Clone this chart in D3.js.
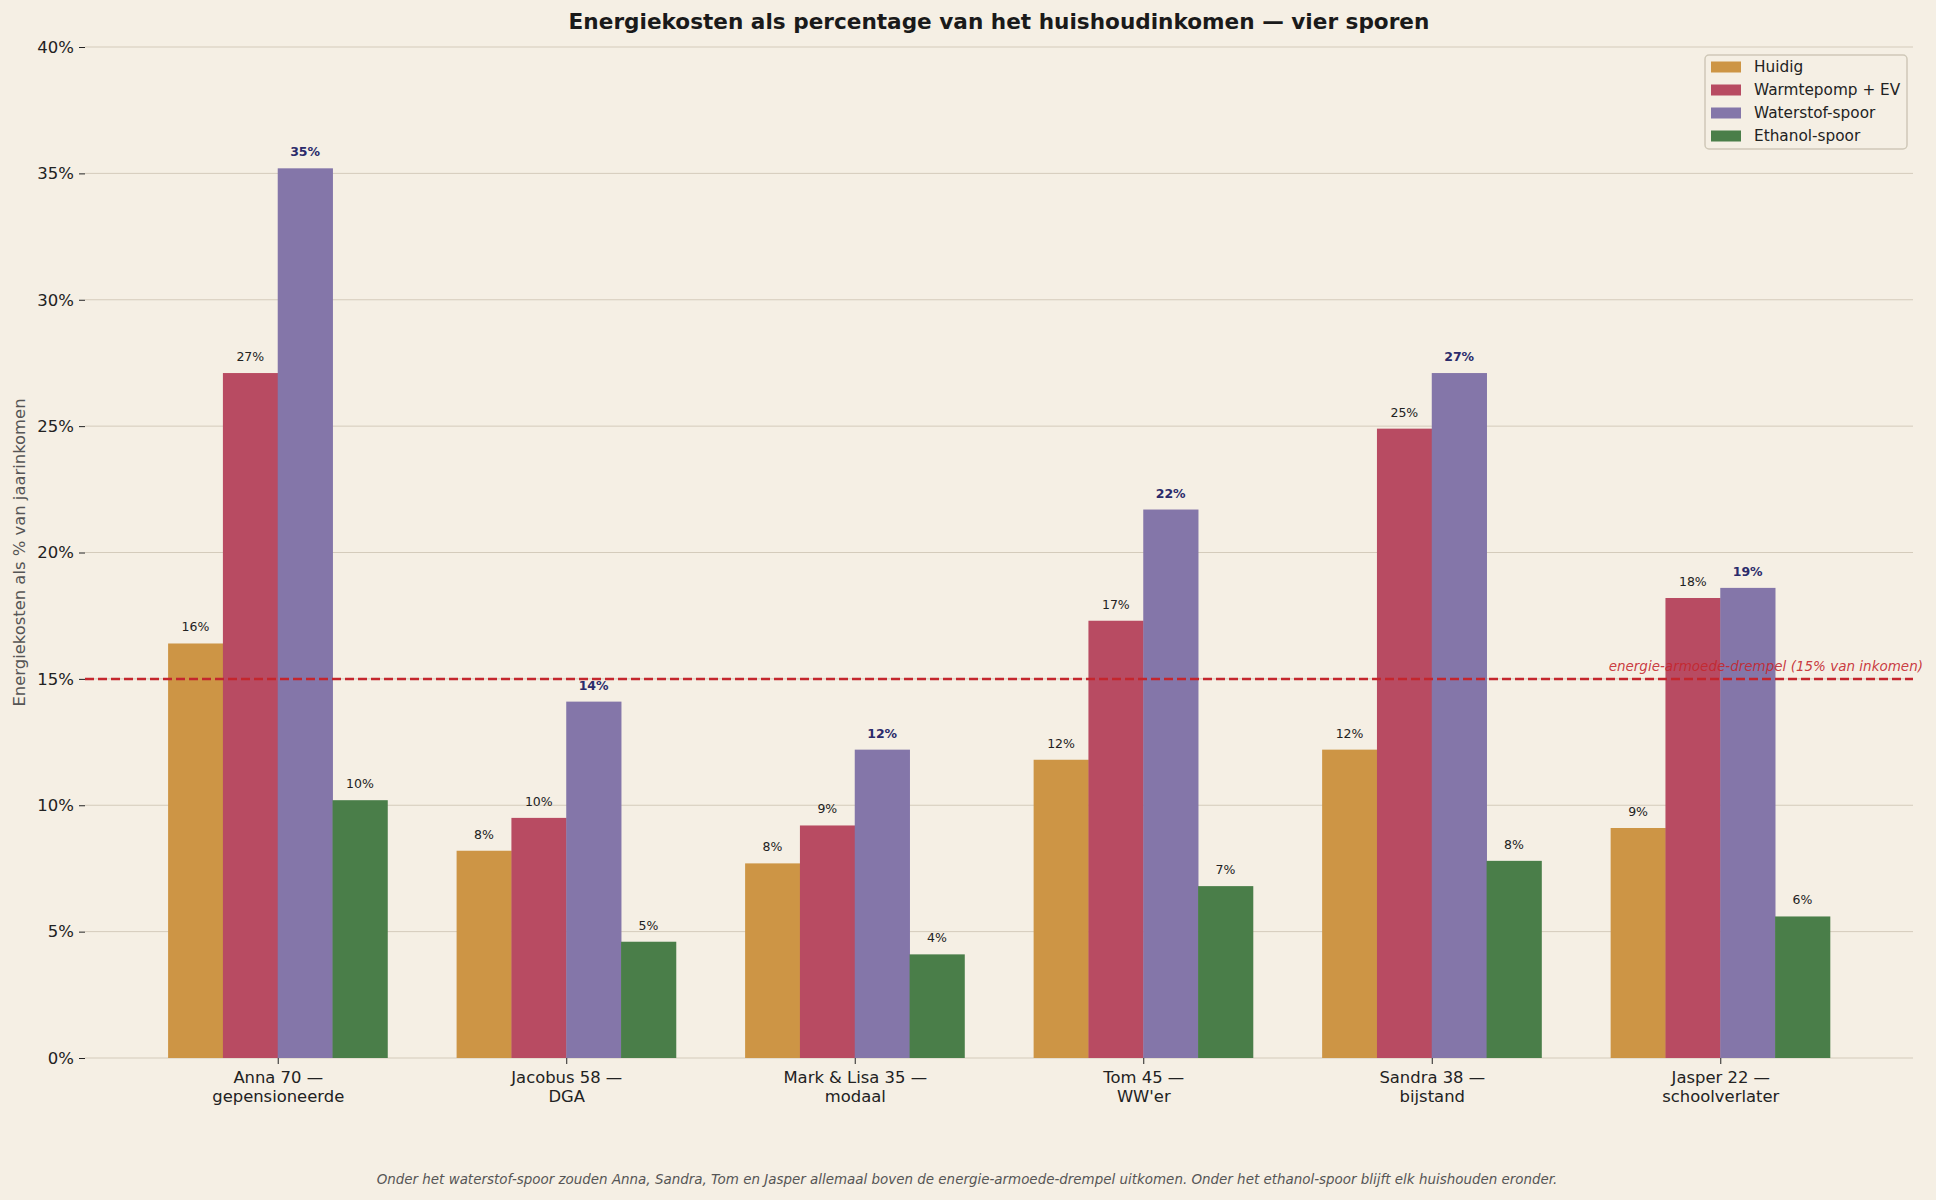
<!DOCTYPE html>
<html lang="nl">
    <head>
        <meta charset="UTF-8" />
        <title>Energiekosten vier sporen</title>
        <script src="https://cdn.jsdelivr.net/npm/d3@7"></script>
    </head>
    <body style="padding: 0; margin: 0; background-color: #f5efe4;">
        <script>
            // data
            const households = [
                ['Anna 70 —', 'gepensioneerde'],
                ['Jacobus 58 —', 'DGA'],
                ['Mark & Lisa 35 —', 'modaal'],
                ["Tom 45 —", "WW'er"],
                ['Sandra 38 —', 'bijstand'],
                ['Jasper 22 —', 'schoolverlater']
            ];
            const seriesNames = ['Huidig', 'Warmtepomp + EV', 'Waterstof-spoor', 'Ethanol-spoor'];
            const huidig = [16.4, 8.2, 7.7, 11.8, 12.2, 9.1];
            const warmtepomp = [27.1, 9.5, 9.2, 17.3, 24.9, 18.2];
            const waterstof = [35.2, 14.1, 12.2, 21.7, 27.1, 18.6];
            const ethanol = [10.2, 4.6, 4.1, 6.8, 7.8, 5.6];
            const yTicks = [0, 5, 10, 15, 20, 25, 30, 35, 40];
            const threshold = 15;

            const series = [huidig, warmtepomp, waterstof, ethanol];
            const colors = ['#cd9545', '#b84b62', '#8476a9', '#4a7e49'];
            const font = '"DejaVu Sans", sans-serif';

            const width = 1936;
            const height = 1200;
            const m = { left: 85, right: 1913, top: 47, bottom: 1058 };
            const barW = 0.19;

            const svg = d3
                .select('body')
                .append('svg')
                .attr('width', width)
                .attr('height', height)
                .style('font-family', font)
                .style('display', 'block');

            svg.append('rect').attr('width', width).attr('height', height).attr('fill', '#f5efe4');

            const x = d3.scaleLinear().domain([-0.668, 5.668]).range([m.left, m.right]);
            const y = d3.scaleLinear().domain([0, 40]).range([m.bottom, m.top]);

            // grid
            svg.append('g')
                .selectAll('line')
                .data(yTicks)
                .join('line')
                .attr('x1', m.left)
                .attr('x2', m.right)
                .attr('y1', d => y(d))
                .attr('y2', d => y(d))
                .attr('stroke', '#d4cbbb')
                .attr('stroke-width', 1);

            // y axis
            const yAxis = svg.append('g')
                .attr('transform', `translate(${m.left},0)`)
                .call(d3.axisLeft(y).tickValues(yTicks).tickFormat(d => d + '%').tickSize(6).tickPadding(5));
            yAxis.attr('font-family', font);
            yAxis.select('.domain').remove();
            yAxis.selectAll('text').attr('font-size', 16.5).attr('fill', '#222');
            yAxis.selectAll('line').attr('stroke', '#222');

            // x axis
            const xAxis = svg.append('g')
                .attr('transform', `translate(0,${m.bottom})`)
                .call(d3.axisBottom(x).tickValues(d3.range(households.length)).tickFormat('').tickSize(6));
            xAxis.attr('font-family', font);
            xAxis.select('.domain').remove();
            xAxis.selectAll('line').attr('stroke', '#222');
            xAxis.selectAll('.tick')
                .append('text')
                .attr('text-anchor', 'middle')
                .attr('fill', '#222')
                .attr('font-size', 16.4)
                .selectAll('tspan')
                .data(i => households[i])
                .join('tspan')
                .attr('x', 0)
                .attr('y', (d, j) => 25 + j * 19)
                .text(d => d);

            // bars
            series.forEach((vals, s) => {
                const off = (s - 1.5) * barW;
                const g = svg.append('g');
                g.selectAll('rect')
                    .data(vals)
                    .join('rect')
                    .attr('x', (d, i) => x(i + off - barW / 2))
                    .attr('width', x(barW) - x(0) + 0.4)
                    .attr('y', d => y(d))
                    .attr('height', d => y(0) - y(d))
                    .attr('fill', colors[s]);
                g.selectAll('text')
                    .data(vals)
                    .join('text')
                    .attr('x', (d, i) => x(i + off))
                    .attr('y', d => y(d) - 12)
                    .attr('text-anchor', 'middle')
                    .attr('font-size', 12.5)
                    .attr('font-weight', s === 2 ? 'bold' : 'normal')
                    .attr('fill', s === 2 ? '#2b2b6b' : '#222')
                    .text(d => Math.round(d) + '%');
            });

            // drempel
            svg.append('line')
                .attr('x1', m.left)
                .attr('x2', m.right)
                .attr('y1', y(threshold))
                .attr('y2', y(threshold))
                .attr('stroke', '#c4262d')
                .attr('stroke-width', 2.5)
                .attr('stroke-dasharray', '9,4');
            svg.append('text')
                .attr('x', 1923)
                .attr('y', y(threshold) - 8)
                .attr('text-anchor', 'end')
                .attr('font-size', 13.5)
                .attr('font-style', 'italic')
                .attr('fill', '#c4262d')
                .attr('fill-opacity', 0.9)
                .text('energie-armoede-drempel (15% van inkomen)');

            // legend
            const lg = svg.append('g').attr('transform', 'translate(1705,55)');
            lg.append('rect')
                .attr('width', 202)
                .attr('height', 94)
                .attr('rx', 4)
                .attr('fill', '#f5efe4')
                .attr('fill-opacity', 0.8)
                .attr('stroke', '#cfc8b8')
                .attr('stroke-width', 1.5);
            const items = lg.selectAll('g.item')
                .data(seriesNames)
                .join('g')
                .attr('class', 'item')
                .attr('transform', (d, i) => `translate(6,${12 + i * 23})`);
            items.append('rect')
                .attr('width', 30)
                .attr('height', 11)
                .attr('y', -5.5)
                .attr('fill', (d, i) => colors[i]);
            items.append('text')
                .attr('x', 43)
                .attr('dy', '0.35em')
                .attr('font-size', 15.3)
                .attr('fill', '#222')
                .text(d => d);

            // titel
            svg.append('text')
                .attr('x', (m.left + m.right) / 2)
                .attr('y', 29)
                .attr('text-anchor', 'middle')
                .attr('font-size', 21.6)
                .attr('font-weight', 'bold')
                .attr('fill', '#1a1a1a')
                .text('Energiekosten als percentage van het huishoudinkomen — vier sporen');

            // y label
            svg.append('text')
                .attr('transform', `translate(25,${(m.top + m.bottom) / 2}) rotate(-90)`)
                .attr('text-anchor', 'middle')
                .attr('font-size', 16.4)
                .attr('fill', '#555')
                .text('Energiekosten als % van jaarinkomen');

            // voetnoot
            svg.append('text')
                .attr('x', 967)
                .attr('y', 1184)
                .attr('text-anchor', 'middle')
                .attr('font-size', 13.45)
                .attr('font-style', 'italic')
                .attr('fill', '#555')
                .text('Onder het waterstof-spoor zouden Anna, Sandra, Tom en Jasper allemaal boven de energie-armoede-drempel uitkomen. Onder het ethanol-spoor blijft elk huishouden eronder.');
        </script>
    </body>
</html>
